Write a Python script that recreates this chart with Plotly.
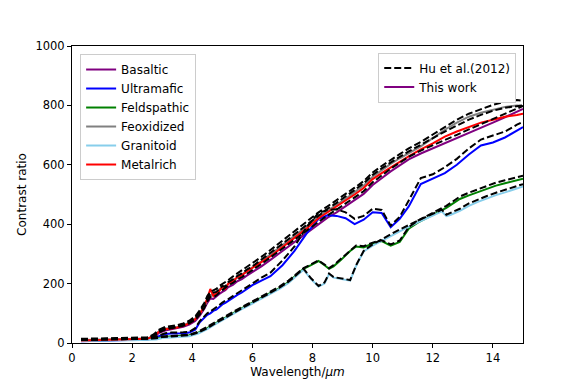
import plotly.graph_objects as go

# ---------------- data ----------------
wl_main = [0.3, 1.0, 1.5, 2.0, 2.5, 2.7, 2.9, 3.1, 3.3, 3.5, 3.7, 3.9, 4.1, 4.25, 4.4,
           4.5, 4.6, 4.7, 4.8, 4.9, 5.0, 5.1, 5.2, 5.35, 5.5, 5.65, 5.8, 6.0, 6.3, 6.6,
           7.0, 7.4, 7.8, 8.2, 8.5, 8.8, 9.1, 9.4, 9.7, 10.0, 10.3, 10.6, 10.9, 11.2, 11.6,
           12.0, 12.4, 12.8, 13.2, 13.6, 14.0, 14.4, 14.8, 15.0]

basaltic = [8, 10, 10, 11, 13, 20, 34, 42, 46, 50, 55, 62, 74, 92, 115,
            135, 150, 148, 155, 165, 172, 178, 188, 196, 208, 215, 226, 238, 258, 280,
            310, 340, 372, 402, 422, 440, 460, 480, 502, 532, 556, 578, 598, 618, 638,
            655, 672, 690, 708, 724, 742, 760, 778, 788]
ultramafic = [6, 8, 8, 9, 12, 16, 24, 30, 32, 32, 33, 35, 45, 70, 85,
              95, 100, 108, 112, 122, 130, 135, 142, 152, 162, 170, 182, 195, 210, 225,
              262, 310, 368, 418, 430, 428, 420, 400, 415, 440, 438, 390, 418, 460, 535,
              553, 572, 600, 635, 665, 675, 692, 715, 727]
feoxidized = [10, 12, 12, 13, 15, 24, 40, 48, 50, 54, 60, 68, 82, 100, 122,
              145, 160, 165, 170, 180, 185, 192, 198, 210, 220, 230, 242, 255, 275, 298,
              328, 360, 392, 425, 445, 465, 485, 508, 530, 560, 582, 603, 622, 640, 662,
              690, 718, 742, 762, 775, 785, 795, 800, 798]
metalrich = [8, 10, 10, 12, 14, 22, 38, 46, 48, 52, 58, 66, 80, 98, 125,
             150, 182, 158, 168, 175, 190, 182, 200, 208, 222, 228, 240, 252, 272, 292,
             322, 355, 385, 420, 440, 458, 478, 500, 522, 552, 572, 592, 610, 628, 652,
             672, 695, 712, 728, 742, 752, 762, 768, 772]

hu_basaltic = [10, 12, 12, 13, 15, 22, 36, 45, 49, 53, 58, 66, 78, 96, 118,
               140, 155, 154, 160, 170, 178, 184, 194, 202, 214, 222, 232, 245, 266, 288,
               318, 348, 380, 410, 430, 449, 469, 489, 511, 541, 565, 587, 607, 627, 648,
               665, 683, 701, 719, 736, 754, 772, 789, 798]
hu_ultramafic = [10, 12, 12, 13, 15, 19, 27, 33, 35, 35, 36, 38, 50, 74, 90,
                 100, 106, 113, 118, 128, 136, 141, 148, 158, 168, 177, 189, 203, 220, 237,
                 278, 325, 390, 438, 448, 450, 440, 418, 428, 452, 448, 395, 425, 480, 555,
                 568, 592, 620, 655, 685, 698, 712, 735, 745]
hu_feoxidized = [14, 16, 16, 17, 19, 28, 45, 54, 56, 60, 66, 75, 90, 110, 135,
                 158, 172, 176, 182, 192, 198, 205, 212, 224, 234, 244, 256, 268, 290, 313,
                 344, 376, 408, 440, 460, 480, 500, 523, 545, 574, 596, 617, 636, 655, 677,
                 702, 728, 752, 772, 788, 802, 812, 818, 815]
hu_metalrich = [12, 14, 14, 15, 17, 25, 40, 50, 52, 56, 62, 70, 85, 104, 130,
                150, 165, 170, 172, 182, 192, 190, 205, 214, 226, 234, 246, 258, 280, 302,
                334, 366, 398, 430, 452, 472, 492, 515, 538, 566, 588, 608, 627, 645, 668,
                690, 712, 732, 752, 768, 782, 792, 798, 800]

wl_fg = [0.3, 1.0, 1.5, 2.0, 2.5, 2.8, 3.0, 3.3, 3.6, 3.9, 4.2, 4.5, 4.8, 5.1, 5.4,
         5.7, 6.0, 6.3, 6.6, 6.9, 7.2, 7.5, 7.7, 7.95, 8.2, 8.4, 8.55, 8.7, 8.95, 9.25,
         9.45, 9.7, 10.0, 10.3, 10.6, 10.9, 11.2, 11.5, 11.8, 12.1, 12.3, 12.45, 12.6, 12.9, 13.2,
         13.5, 13.8, 14.1, 14.4, 14.7, 15.0]

feldspathic = [8, 10, 10, 10, 11, 14, 20, 22, 24, 26, 35, 50, 68, 86, 104,
               120, 136, 152, 170, 185, 205, 232, 250, 262, 276, 262, 250, 258, 280, 310,
               325, 322, 335, 343, 328, 340, 385, 405, 420, 436, 445, 455, 465, 485, 497,
               508, 520, 530, 538, 546, 553]
granitoid = [7, 9, 9, 9, 10, 12, 17, 19, 21, 23, 32, 47, 65, 83, 101,
             117, 133, 149, 167, 182, 202, 229, 247, 215, 190, 200, 232, 220, 215, 210,
             260, 308, 328, 345, 360, 376, 392, 406, 420, 435, 443, 427, 432, 445, 462,
             475, 487, 498, 507, 517, 527]
hu_feldspathic = [12, 14, 14, 14, 15, 17, 22, 24, 26, 28, 38, 54, 72, 90, 108,
                  124, 140, 156, 174, 190, 210, 236, 252, 265, 278, 264, 252, 262, 285, 313,
                  328, 326, 338, 346, 332, 345, 390, 412, 428, 444, 452, 462, 472, 493, 506,
                  518, 530, 540, 548, 556, 563]
hu_granitoid = [12, 14, 14, 14, 15, 16, 20, 22, 24, 26, 35, 50, 68, 86, 104,
                120, 136, 152, 170, 186, 206, 232, 250, 218, 192, 204, 234, 222, 217, 212,
                262, 310, 332, 350, 366, 382, 398, 412, 426, 441, 449, 432, 438, 452, 470,
                483, 495, 506, 516, 526, 535]

x_ticks = [0, 2, 4, 6, 8, 10, 12, 14]
y_ticks = [0, 200, 400, 600, 800, 1000]

series = [
    ("Basaltic", wl_main, basaltic, hu_basaltic, "#800080"),
    ("Ultramafic", wl_main, ultramafic, hu_ultramafic, "#0000FF"),
    ("Feldspathic", wl_fg, feldspathic, hu_feldspathic, "#008000"),
    ("Feoxidized", wl_main, feoxidized, hu_feoxidized, "#808080"),
    ("Granitoid", wl_fg, granitoid, hu_granitoid, "#87CEEB"),
    ("Metalrich", wl_main, metalrich, hu_metalrich, "#FF0000"),
]

FONT = "DejaVu Sans"
fig = go.Figure()

for name, xs, ys, hus, col in series:
    fig.add_trace(go.Scatter(x=xs, y=ys, mode="lines", name=name,
                             line=dict(color=col, width=2), legend="legend"))
for i, (name, xs, ys, hus, col) in enumerate(series):
    fig.add_trace(go.Scatter(x=xs, y=hus, mode="lines", name="Hu et al.(2012)",
                             line=dict(color="black", width=2, dash="7px,3px"),
                             legend="legend2", showlegend=(i == 0)))
fig.add_trace(go.Scatter(x=[None], y=[None], mode="lines", name="This work",
                         line=dict(color="#800080", width=2), legend="legend2"))

axis_common = dict(showline=True, linecolor="black", linewidth=1, mirror=True,
                   ticks="outside", ticklen=4, tickwidth=1, tickcolor="black",
                   showgrid=False, zeroline=False,
                   tickfont=dict(family=FONT, size=11.5, color="black"))

# page body has an 8px margin, so the figure is shrunk and shifted accordingly
fig.update_layout(
    width=573, height=380,
    margin=dict(l=64, r=58, t=38, b=43),
    paper_bgcolor="white", plot_bgcolor="white",
    font=dict(family=FONT, size=11.5, color="black"),
    xaxis=dict(range=[0, 15], tickvals=x_ticks,
               title=dict(text="Wavelength/<i>μm</i>", font=dict(family=FONT, size=12), standoff=3),
               **axis_common),
    yaxis=dict(range=[0, 1000], tickvals=y_ticks,
               title=dict(text="Contrast ratio", font=dict(family=FONT, size=12), standoff=6),
               **axis_common),
    legend=dict(x=0.018, y=0.973, xanchor="left", yanchor="top",
                bgcolor="white", bordercolor="#cccccc", borderwidth=1,
                font=dict(family=FONT, size=12), tracegroupgap=0),
    legend2=dict(x=0.985, y=0.978, xanchor="right", yanchor="top",
                 bgcolor="white", bordercolor="#cccccc", borderwidth=1,
                 font=dict(family=FONT, size=12)),
    showlegend=True,
)

fig.write_html("out.html")
